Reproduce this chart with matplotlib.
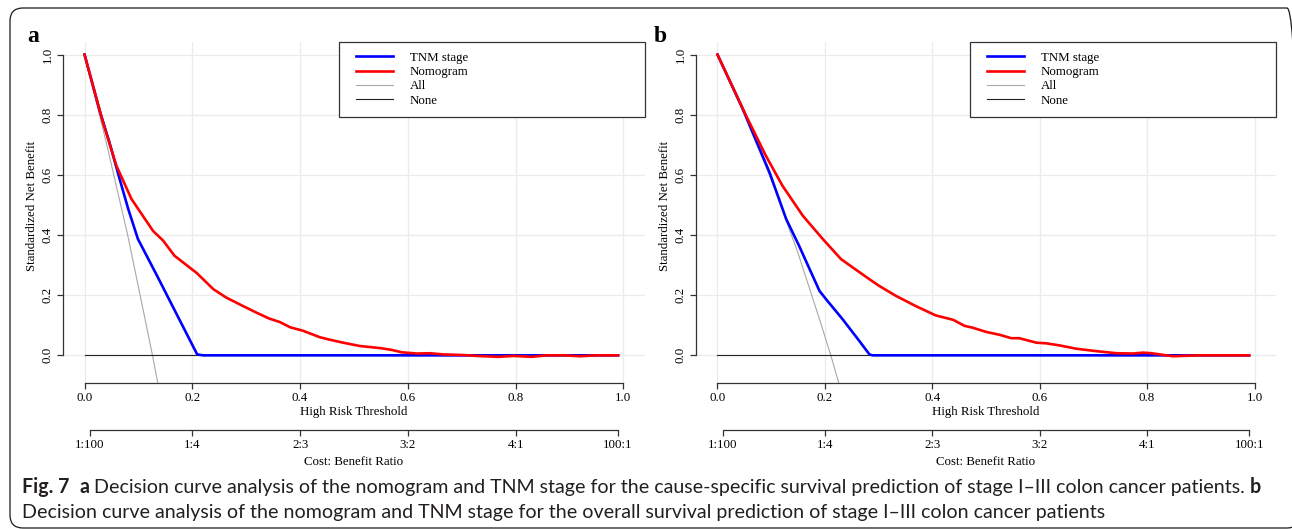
import matplotlib
matplotlib.use('Agg')
import numpy as np
import matplotlib.pyplot as plt
from matplotlib.patches import FancyBboxPatch
from matplotlib.lines import Line2D
from matplotlib.legend_handler import HandlerLine2D
from matplotlib.transforms import IdentityTransform

# ---------------- data ----------------
x_ticks = [0.0, 0.2, 0.4, 0.6, 0.8, 1.0]
x_tick_labels = ['0.0', '0.2', '0.4', '0.6', '0.8', '1.0']
y_ticks = [0.0, 0.2, 0.4, 0.6, 0.8, 1.0]
y_tick_labels = ['0.0', '0.2', '0.4', '0.6', '0.8', '1.0']
cb_ticks = [0.01, 0.2, 0.4, 0.6, 0.8, 0.99]
cb_labels = ['1:100', '1:4', '2:3', '3:2', '4:1', '100:1']
legend_labels = ['TNM stage', 'Nomogram', 'All', 'None']

# panel a
a_thr_tnm = [0.0, 0.028, 0.046, 0.065, 0.081, 0.099, 0.133, 0.170, 0.209, 0.220, 0.99]
a_tnm = [1.0, 0.814, 0.709, 0.587, 0.487, 0.387, 0.270, 0.140, 0.003, 0.0, 0.0]
a_thr_nom = [0.0, 0.034, 0.059, 0.087, 0.127, 0.146, 0.167, 0.208, 0.239, 0.263, 0.294,
             0.319, 0.343, 0.362, 0.382, 0.405, 0.437, 0.455, 0.480, 0.511, 0.549, 0.570,
             0.589, 0.617, 0.641, 0.666, 0.703, 0.728, 0.768, 0.796, 0.830, 0.858, 0.889,
             0.920, 0.951, 0.99]
a_nom = [1.0, 0.776, 0.631, 0.520, 0.414, 0.381, 0.331, 0.274, 0.220, 0.192, 0.164,
         0.142, 0.122, 0.111, 0.093, 0.082, 0.060, 0.052, 0.042, 0.031, 0.024, 0.018,
         0.010, 0.006, 0.007, 0.003, 0.001, -0.002, -0.005, -0.002, -0.005, 0.0, 0.0,
         -0.003, 0.0, 0.0]
a_thr_all = [0.0, 0.04, 0.08, 0.11, 0.126, 0.1385]
a_all = [1.0, 0.71, 0.40, 0.14, 0.0, -0.116]
a_thr_none = [0.0, 0.99]
a_none = [0.0, 0.0]

# panel b
b_thr_tnm = [0.0, 0.047, 0.0967, 0.128, 0.152, 0.190, 0.202, 0.233, 0.264, 0.283, 0.289, 0.99]
b_tnm = [1.0, 0.820, 0.609, 0.453, 0.364, 0.214, 0.187, 0.120, 0.048, 0.003, 0.0, 0.0]
b_thr_nom = [0.0, 0.053, 0.090, 0.121, 0.159, 0.196, 0.230, 0.252, 0.283, 0.301, 0.332,
             0.369, 0.406, 0.439, 0.460, 0.475, 0.500, 0.526, 0.547, 0.562, 0.594, 0.612,
             0.637, 0.668, 0.705, 0.743, 0.774, 0.792, 0.808, 0.848, 0.898, 0.941, 0.99]
b_nom = [1.0, 0.798, 0.664, 0.564, 0.464, 0.387, 0.320, 0.292, 0.253, 0.231, 0.198,
         0.164, 0.133, 0.118, 0.098, 0.092, 0.078, 0.068, 0.057, 0.057, 0.042, 0.040,
         0.033, 0.022, 0.014, 0.007, 0.006, 0.009, 0.007, -0.003, 0.0, 0.0, 0.0]
b_thr_all = [0.0, 0.05, 0.10, 0.15, 0.19, 0.211, 0.232]
b_all = [1.0, 0.80, 0.585, 0.34, 0.12, 0.0, -0.13]
b_thr_none = [0.0, 0.99]
b_none = [0.0, 0.0]

caption_line1 = [('Fig. 7', 'bold'), (' ', 'normal'), (' ', 'normal'), ('a', 'bold'), (' ', 'normal'),
                 ('Decision curve analysis of the nomogram and TNM stage for the cause-specific '
                  'survival prediction of stage I\u2013III colon cancer patients.', 'normal'),
                 (' ', 'normal'), ('b', 'bold')]
caption_line2 = [('Decision curve analysis of the nomogram and TNM stage for the overall '
                  'survival prediction of stage I\u2013III colon cancer patients', 'normal')]

# ---------------- style ----------------
W, H = 1292, 529
SERIF = 'Liberation Serif'
CAP_FONT = 'Lato'
FS = 9.3
BLUE, RED, GRAY, BLACK = '#0000FF', '#FF0000', '#A8A8A8', '#222222'
AXC = '#333333'
PX2PT = 72 / 100

plt.rcParams['font.family'] = SERIF
fig = plt.figure(figsize=(W / 100, H / 100), dpi=100)


class OffsetLineHandler(HandlerLine2D):
    """Line handle drawn only in the right part of the handle box."""

    def __init__(self, offset_pt, **kw):
        super().__init__(**kw)
        self.offset_pt = offset_pt

    def get_xdata(self, legend, xdescent, ydescent, width, height, fontsize):
        x0 = -xdescent + self.offset_pt
        x1 = -xdescent + width
        return np.array([x0, x1]), np.array([x0, x1])


def px_axes(l, r, t, b):
    return [l / W, 1 - b / H, (r - l) / W, (b - t) / H]


def draw_panel(left, right, label, label_x, thr_tnm, tnm, thr_nom, nom, thr_all, allv, thr_none, nonev):
    ax = fig.add_axes(px_axes(left, right, 42, 383))
    ax.set_xlim(-0.04, 1.04)
    ax.set_ylim(-0.092, 1.042)
    ax.set_xticks(x_ticks)
    ax.set_xticklabels(x_tick_labels, fontsize=FS)
    ax.set_yticks(y_ticks)
    ax.set_yticklabels(y_tick_labels, fontsize=FS, rotation=90, va='center')
    ax.grid(True, color='#EBEBEB', lw=0.9, zorder=0)
    ax.set_axisbelow(True)
    for s in ['top', 'right']:
        ax.spines[s].set_visible(False)
    for s in ['left', 'bottom']:
        ax.spines[s].set_color(AXC)
        ax.spines[s].set_linewidth(0.9)
        ax.spines[s].set_bounds(0, 1)
    ax.tick_params(direction='out', length=4.2, width=0.9, color=AXC, pad=2.5)

    ax.plot(thr_all, allv, color=GRAY, lw=0.8, zorder=2)
    ax.plot(thr_none, nonev, color=BLACK, lw=0.8, zorder=2)
    ax.plot(thr_tnm, tnm, color=BLUE, lw=1.9, zorder=3)
    ax.plot(thr_nom, nom, color=RED, lw=1.9, zorder=4)

    handles = [Line2D([], [], color=BLUE, lw=1.9), Line2D([], [], color=RED, lw=1.9),
               Line2D([], [], color=GRAY, lw=0.8), Line2D([], [], color=BLACK, lw=0.8)]
    aw = right - left
    box_left = right - 306
    x0 = (box_left - left) / aw
    fs_px = FS / PX2PT
    bpad = 0.75
    area_start = box_left + bpad * fs_px
    hl = (box_left + 54 - area_start) / fs_px
    off_pt = (box_left + 17 - area_start) * PX2PT
    hmap = {h: OffsetLineHandler(off_pt) for h in handles}
    leg = ax.legend(handles, legend_labels, loc='upper left', handler_map=hmap,
                    bbox_to_anchor=(x0, 0.783, 1 - x0, 0.217), mode='expand',
                    borderaxespad=0, frameon=True, fancybox=False, edgecolor=AXC,
                    framealpha=1, handlelength=hl, handletextpad=1.32, labelspacing=0.18,
                    borderpad=bpad, fontsize=FS)
    leg.get_frame().set_linewidth(0.9)

    # cost:benefit axis
    ax2 = fig.add_axes(px_axes(left, right, 429, 430))
    ax2.set_xlim(-0.04, 1.04)
    ax2.patch.set_alpha(0)
    for s in ['top', 'right', 'left']:
        ax2.spines[s].set_visible(False)
    ax2.spines['bottom'].set_bounds(0.01, 0.99)
    ax2.spines['bottom'].set_color(AXC)
    ax2.spines['bottom'].set_linewidth(0.9)
    ax2.set_yticks([])
    ax2.set_xticks(cb_ticks)
    ax2.set_xticklabels(cb_labels, fontsize=FS)
    ax2.tick_params(direction='out', length=4.2, width=0.9, color=AXC, pad=2.5)

    cx = (left + right) / 2
    fig.text(cx / W, 1 - 412 / H, 'High Risk Threshold', ha='center', va='center', fontsize=FS)
    fig.text(cx / W, 1 - 462 / H, 'Cost: Benefit Ratio', ha='center', va='center', fontsize=FS)
    fig.text((left - 31) / W, 1 - 206 / H, 'Standardized Net Benefit', ha='center', va='center',
             rotation=90, fontsize=FS)
    fig.text(label_x / W, 1 - 42 / H, label, ha='left', va='baseline', fontsize=17,
             fontweight='bold')
    return ax


draw_panel(63, 645, 'a', 27, a_thr_tnm, a_tnm, a_thr_nom, a_nom, a_thr_all, a_all,
           a_thr_none, a_none)
draw_panel(696, 1276, 'b', 654, b_thr_tnm, b_tnm, b_thr_nom, b_nom, b_thr_all, b_all,
           b_thr_none, b_none)

# rounded border
border = FancyBboxPatch((10, H - 528), 1290, 520, boxstyle='round,pad=0,rounding_size=13',
                        transform=IdentityTransform(), fill=False, edgecolor='#1a1a1a', lw=0.9)
fig.patches.append(border)

# caption
fig.canvas.draw()
rend = fig.canvas.get_renderer()


def text_width(s, fs, weight):
    t = fig.text(0, 0, s, fontsize=fs, fontweight=weight, family=CAP_FONT)
    w = t.get_window_extent(renderer=rend).width
    t.remove()
    return w


def space_width(fs):
    return text_width('x x', fs, 'normal') - text_width('xx', fs, 'normal')


def line_width(pieces, fs):
    total = 0
    for s, wgt in pieces:
        total += space_width(fs) if s == ' ' else text_width(s, fs, wgt)
    return total


base = 12.0
cap_fs = base * (1257 - 22) / line_width(caption_line1, base)


def place_line(pieces, x0, y_base, fs):
    x = x0
    for s, wgt in pieces:
        if s == ' ':
            x += space_width(fs)
            continue
        t = fig.text(x / W, 1 - y_base / H, s, fontsize=fs, fontweight=wgt, family=CAP_FONT,
                     ha='left', va='baseline', color='#231f20')
        x += t.get_window_extent(renderer=rend).width


place_line(caption_line1, 22, 493, cap_fs)
place_line(caption_line2, 22, 518, cap_fs)

fig.savefig('out.png', dpi=100)
